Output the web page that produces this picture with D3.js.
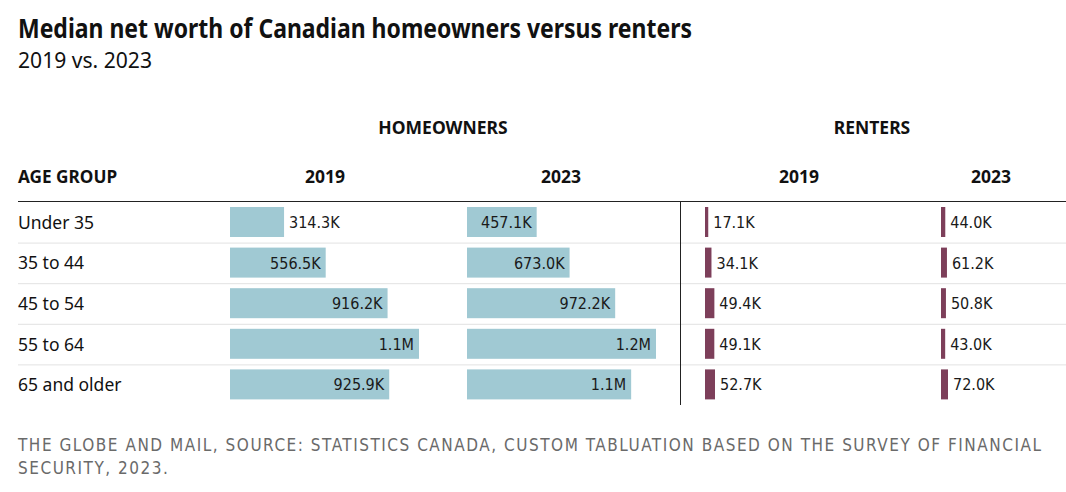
<!DOCTYPE html>
<html>
<head>
<meta charset="utf-8">
<script src="https://cdn.jsdelivr.net/npm/d3@7"></script>
<style>
  html, body { margin: 0; padding: 0; background: #fff; }
  svg { display: block; }
</style>
</head>
<body>
<svg id="chart" width="1066" height="492"></svg>
<script>
// ---- data ----
const ageGroups = ["Under 35", "35 to 44", "45 to 54", "55 to 64", "65 and older"];
const owners2019 = [314.3, 556.5, 916.2, 1099, 925.9];   // thousands of dollars
const owners2023 = [457.1, 673.0, 972.2, 1240, 1077];
const renters2019 = [17.1, 34.1, 49.4, 49.1, 52.7];
const renters2023 = [44.0, 61.2, 50.8, 43.0, 72.0];
const groupLabels = ["HOMEOWNERS", "RENTERS"];
const yearLabels = ["2019", "2023", "2019", "2023"];

const titleText = "Median net worth of Canadian homeowners versus renters";
const subtitleText = "2019 vs. 2023";
const footerLines = [
  "THE GLOBE AND MAIL, SOURCE: STATISTICS CANADA, CUSTOM TABLUATION BASED ON THE SURVEY OF FINANCIAL",
  "SECURITY, 2023."
];

const fmt = v => v >= 1000 ? (v / 1000).toFixed(1) + "M" : v.toFixed(1) + "K";

const svg = d3.select("#chart");
const humanist = "'Noto Sans', 'Open Sans', sans-serif";
const numFont = "'DejaVu Sans Condensed', 'DejaVu Sans', sans-serif";

// title
svg.append("text")
  .attr("x", 18).attr("y", 38)
  .attr("font-family", humanist).attr("font-weight", 700)
  .attr("font-size", 26).attr("fill", "#111")
  .attr("textLength", 674).attr("lengthAdjust", "spacingAndGlyphs")
  .text(titleText);
svg.append("text")
  .attr("x", 18).attr("y", 68)
  .attr("font-family", humanist).attr("font-size", 21).attr("fill", "#111")
  .attr("textLength", 134).attr("lengthAdjust", "spacingAndGlyphs")
  .text(subtitleText);

// headers
const headFont = humanist;
svg.append("text").attr("x", 443).attr("y", 134).attr("text-anchor", "middle")
  .attr("font-family", headFont).attr("font-weight", 700).attr("font-size", 17.5).attr("fill", "#111")
  .text(groupLabels[0]);
svg.append("text").attr("x", 872).attr("y", 134).attr("text-anchor", "middle")
  .attr("font-family", headFont).attr("font-weight", 700).attr("font-size", 17.5).attr("fill", "#111")
  .text(groupLabels[1]);
svg.append("text").attr("x", 18).attr("y", 183)
  .attr("font-family", headFont).attr("font-weight", 700).attr("font-size", 17.2).attr("fill", "#111")
  .text("AGE GROUP");
const yearCenters = [325, 561, 799, 991];
yearLabels.forEach((t, i) => {
  svg.append("text").attr("x", yearCenters[i]).attr("y", 183).attr("text-anchor", "middle")
    .attr("font-family", headFont).attr("font-weight", 700).attr("font-size", 17.5).attr("fill", "#111")
    .text(t);
});

// rows
const y = d3.scaleBand().domain(ageGroups).range([202, 405]);
const step = y.step();
const barH = 30;
const barOff = 5;

// separators
ageGroups.slice(0, -1).forEach(g => {
  svg.append("line").attr("x1", 18).attr("x2", 1066)
    .attr("y1", y(g) + step + 0.5).attr("y2", y(g) + step + 0.5)
    .attr("stroke", "#e2e2e2").attr("stroke-width", 1);
});
// header line
svg.append("line").attr("x1", 18).attr("x2", 1066).attr("y1", 201.5).attr("y2", 201.5)
  .attr("stroke", "#222").attr("stroke-width", 1.2);
// vertical divider
svg.append("line").attr("x1", 680.5).attr("x2", 680.5).attr("y1", 202).attr("y2", 405)
  .attr("stroke", "#222").attr("stroke-width", 1);

// row labels
svg.append("g").selectAll("text").data(ageGroups).join("text")
  .attr("x", 18).attr("y", d => y(d) + step / 2 + 6.5)
  .attr("font-family", humanist).attr("font-size", 17.5).attr("fill", "#111")
  .text(d => d);

// columns
const columns = [
  { values: owners2019, x0: 230, width: 189, color: "#a0c9d3" },
  { values: owners2023, x0: 467, width: 189, color: "#a0c9d3" },
  { values: renters2019, x0: 705, width: 10, color: "#7d3f5a" },
  { values: renters2023, x0: 941, width: 7, color: "#7d3f5a" }
];

columns.forEach(col => {
  const x = d3.scaleLinear().domain([0, d3.max(col.values)]).range([0, col.width]);
  const g = svg.append("g").attr("transform", `translate(${col.x0},0)`);
  const rows = col.values.map((v, i) => ({ v, group: ageGroups[i] }));
  g.selectAll("rect").data(rows).join("rect")
    .attr("x", 0).attr("y", d => y(d.group) + barOff)
    .attr("width", d => x(d.v)).attr("height", barH)
    .attr("fill", col.color);
  g.selectAll("text").data(rows).join("text")
    .attr("y", d => y(d.group) + barOff + barH / 2 + 5.9)
    .attr("font-family", numFont).attr("font-size", 16).attr("fill", "#1a1a1a")
    .text(d => fmt(d.v))
    .each(function (d) {
      const w = this.getComputedTextLength();
      const bw = x(d.v);
      if (w + 12 < bw) {
        d3.select(this).attr("x", bw - 5).attr("text-anchor", "end");
      } else {
        d3.select(this).attr("x", bw + 5).attr("text-anchor", "start");
      }
    });
});

// footer
const footerTargets = [1023, null];
let footerSpacing = 0.6;
footerLines.forEach((t, i) => {
  const txt = svg.append("text").attr("x", 18).attr("y", 451 + i * 22.5)
    .attr("font-family", "'DejaVu Sans Condensed', 'DejaVu Sans', sans-serif")
    .attr("font-size", 17).attr("fill", "#6a6a6a")
    .text(t);
  if (i === 0) {
    const w = txt.node().getComputedTextLength();
    footerSpacing = (footerTargets[0] - w) / (t.length - 1);
  }
  txt.attr("letter-spacing", footerSpacing);
});
</script>
</body>
</html>
